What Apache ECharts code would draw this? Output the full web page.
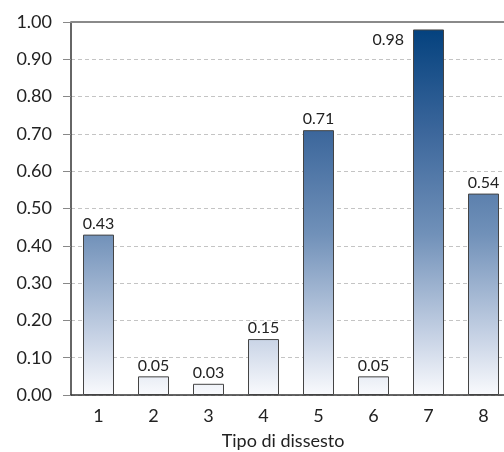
<!DOCTYPE html>
<html>
<head>
<meta charset="utf-8">
<script src="https://cdn.jsdelivr.net/npm/echarts@6/dist/echarts.min.js"></script>
<style>
  html, body { margin: 0; padding: 0; background: #fff; }
  #chart { width: 504px; height: 452px; }
</style>
</head>
<body>
<div id="chart"></div>
<script>
// Categories (tipo di dissesto) and their values
const categories = ['1', '2', '3', '4', '5', '6', '7', '8'];
const values = [0.43, 0.05, 0.03, 0.15, 0.71, 0.05, 0.98, 0.54];
const yTicks = [0, 0.1, 0.2, 0.3, 0.4, 0.5, 0.6, 0.7, 0.8, 0.9, 1.0];

const FONT = 'Lato';
const gridLeft = 71, gridTop = 22, gridBottom = 57;
const chartH = 452;

const chart = echarts.init(document.getElementById('chart'));

// One shared vertical gradient over the plot: white at 0, deep blue at the top
const fill = new echarts.graphic.LinearGradient(0, chartH - gridBottom, 0, gridTop, [
  { offset: 0, color: '#f9fafd' },
  { offset: 0.15, color: '#c9d4e6' },
  { offset: 0.43, color: '#7191b9' },
  { offset: 0.71, color: '#3b669b' },
  { offset: 1, color: '#003f7c' }
], true);

// Bars reaching the top get their value label beside them instead of above
const barData = values.map(v => {
  const item = { value: v };
  if (v > 0.95) {
    item.label = { position: [-9, 2], align: 'right', verticalAlign: 'top' };
  }
  return item;
});

chart.setOption({
  animation: false,
  grid: {
    left: gridLeft, top: gridTop, bottom: gridBottom, width: 440,
    containLabel: false, outerBoundsMode: 'none'
  },
  xAxis: {
    type: 'category',
    data: categories,
    name: 'Tipo di dissesto',
    nameLocation: 'middle',
    nameGap: 37,
    nameTextStyle: { fontFamily: FONT, fontSize: 18, color: '#222', padding: [0, 0, 0, -16] },
    axisLine: { lineStyle: { color: '#333', width: 1.5 } },
    axisTick: { show: false },
    axisLabel: { fontFamily: FONT, fontSize: 18, color: '#222', margin: 12 }
  },
  yAxis: {
    type: 'value',
    min: yTicks[0],
    max: yTicks[yTicks.length - 1],
    interval: 0.1,
    axisLine: { show: true, lineStyle: { color: '#333', width: 1.5 } },
    axisTick: { show: true, length: 8, lineStyle: { color: '#888' } },
    axisLabel: {
      fontFamily: FONT, fontSize: 18, color: '#222', margin: 19,
      formatter: v => v.toFixed(2)
    },
    splitLine: { show: true, lineStyle: { color: '#c4c4c4', type: [4, 3], width: 1 } }
  },
  series: [{
    type: 'bar',
    data: barData,
    barWidth: 31,
    itemStyle: { color: fill, borderColor: '#444', borderWidth: 1 },
    label: {
      show: true,
      position: 'top',
      distance: 3,
      fontFamily: FONT,
      fontSize: 16,
      color: '#222',
      formatter: p => p.value.toFixed(2)
    },
    markLine: {
      silent: true,
      symbol: 'none',
      label: { show: false },
      lineStyle: { color: '#8a8a8a', type: 'solid', width: 2 },
      data: [{ yAxis: 1 }]
    }
  }]
});
</script>
</body>
</html>
